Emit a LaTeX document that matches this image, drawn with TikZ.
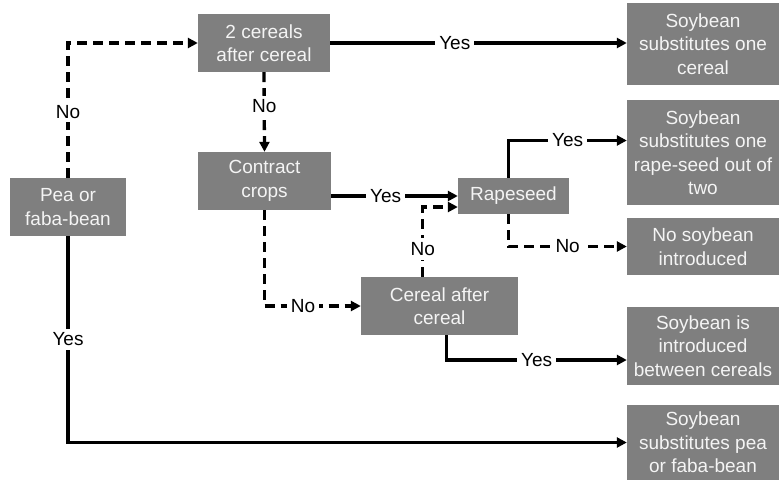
\documentclass[tikz,border=0pt]{standalone}
\usepackage{fontspec}
\setmainfont{Liberation Sans}
\usetikzlibrary{arrows.meta,calc,positioning}
\definecolor{BoxGray}{HTML}{7F7F7F}
\definecolor{BoxText}{HTML}{F4F4F4}

\begin{document}
\begin{tikzpicture}[x=1pt,y=-1pt,>={Triangle[length=10pt,width=10pt]},
 every node/.style={font=\fontsize{19}{23.5}\selectfont},
 box/.style={fill=BoxGray,text=BoxText,align=center,inner sep=2pt},
 yes/.style={->,line width=3.3pt},
 no/.style={->,line width=3.3pt,dash pattern=on 10pt off 6pt},
 lbl/.style={fill=white,inner xsep=4pt,inner ysep=4pt}]
 \useasboundingbox (0,0) rectangle (779,480);
 % decision boxes
 \node[box,minimum width=116pt,minimum height=58pt] (pea) at (68,207) {Pea or\\faba-bean};
 \node[box,minimum width=132pt,minimum height=58pt] (twocer) at (264,43) {2 cereals\\after cereal};
 \node[box,minimum width=133pt,minimum height=58pt] (contract) at (264.5,181) {Contract\\crops};
 \node[box,minimum width=111pt,minimum height=36pt] (rape) at (513.5,196) {Rapeseed};
 \node[box,minimum width=157pt,minimum height=58pt] (cac) at (439.5,306) {Cereal after\\cereal};
 % outcome boxes
 \node[box,minimum width=152pt,minimum height=82pt] (s1) at (703,44) {Soybean\\substitutes one\\cereal};
 \node[box,minimum width=152pt,minimum height=105pt] (s2) at (703,152.5) {Soybean\\substitutes one\\rape-seed out of\\two};
 \node[box,minimum width=152pt,minimum height=57pt] (s3) at (703,246.5) {No soybean\\introduced};
 \node[box,minimum width=152pt,minimum height=78pt] (s4) at (703,346) {Soybean is\\introduced\\between cereals};
 \node[box,minimum width=152pt,minimum height=75pt] (s5) at (703,442.5) {Soybean\\substitutes pea\\or faba-bean};
 % connectors
 \draw[no] (pea.north) |- (twocer.west) node[lbl,pos=0.245] {No};
 \draw[no] (twocer.south) -- (contract.north) node[lbl,pos=0.43] {No};
 \draw[yes] (twocer.east) -- (twocer.east -| s1.west) node[lbl,pos=0.42] {Yes};
 \draw[yes] (contract.east |- rape.west) -- (rape.west) node[lbl,pos=0.43] {Yes};
 \coordinate (cacN) at ($(cac.north west)+(62,0)$);
 \draw[no] (cacN) |- ([yshift=-11pt]rape.west) node[lbl,pos=0.2] {No};
 \draw[yes] ([xshift=-5pt]rape.north) |- ([yshift=12pt]s2.west) node[lbl,pos=0.75] {Yes};
 \draw[no] ([xshift=-5pt]rape.south) |- (s3.west) node[lbl,pos=0.75] {No};
 \draw[no] (contract.south) |- (cac.west) node[lbl,pos=0.7] {No};
 \draw[yes] ([xshift=7pt]cac.south) |- ([yshift=-14pt]s4.west) node[lbl,pos=0.75] {Yes};
 \draw[yes] (pea.south) |- (s5.west) node[lbl,pos=0.25] {Yes};
\end{tikzpicture}
\end{document}
